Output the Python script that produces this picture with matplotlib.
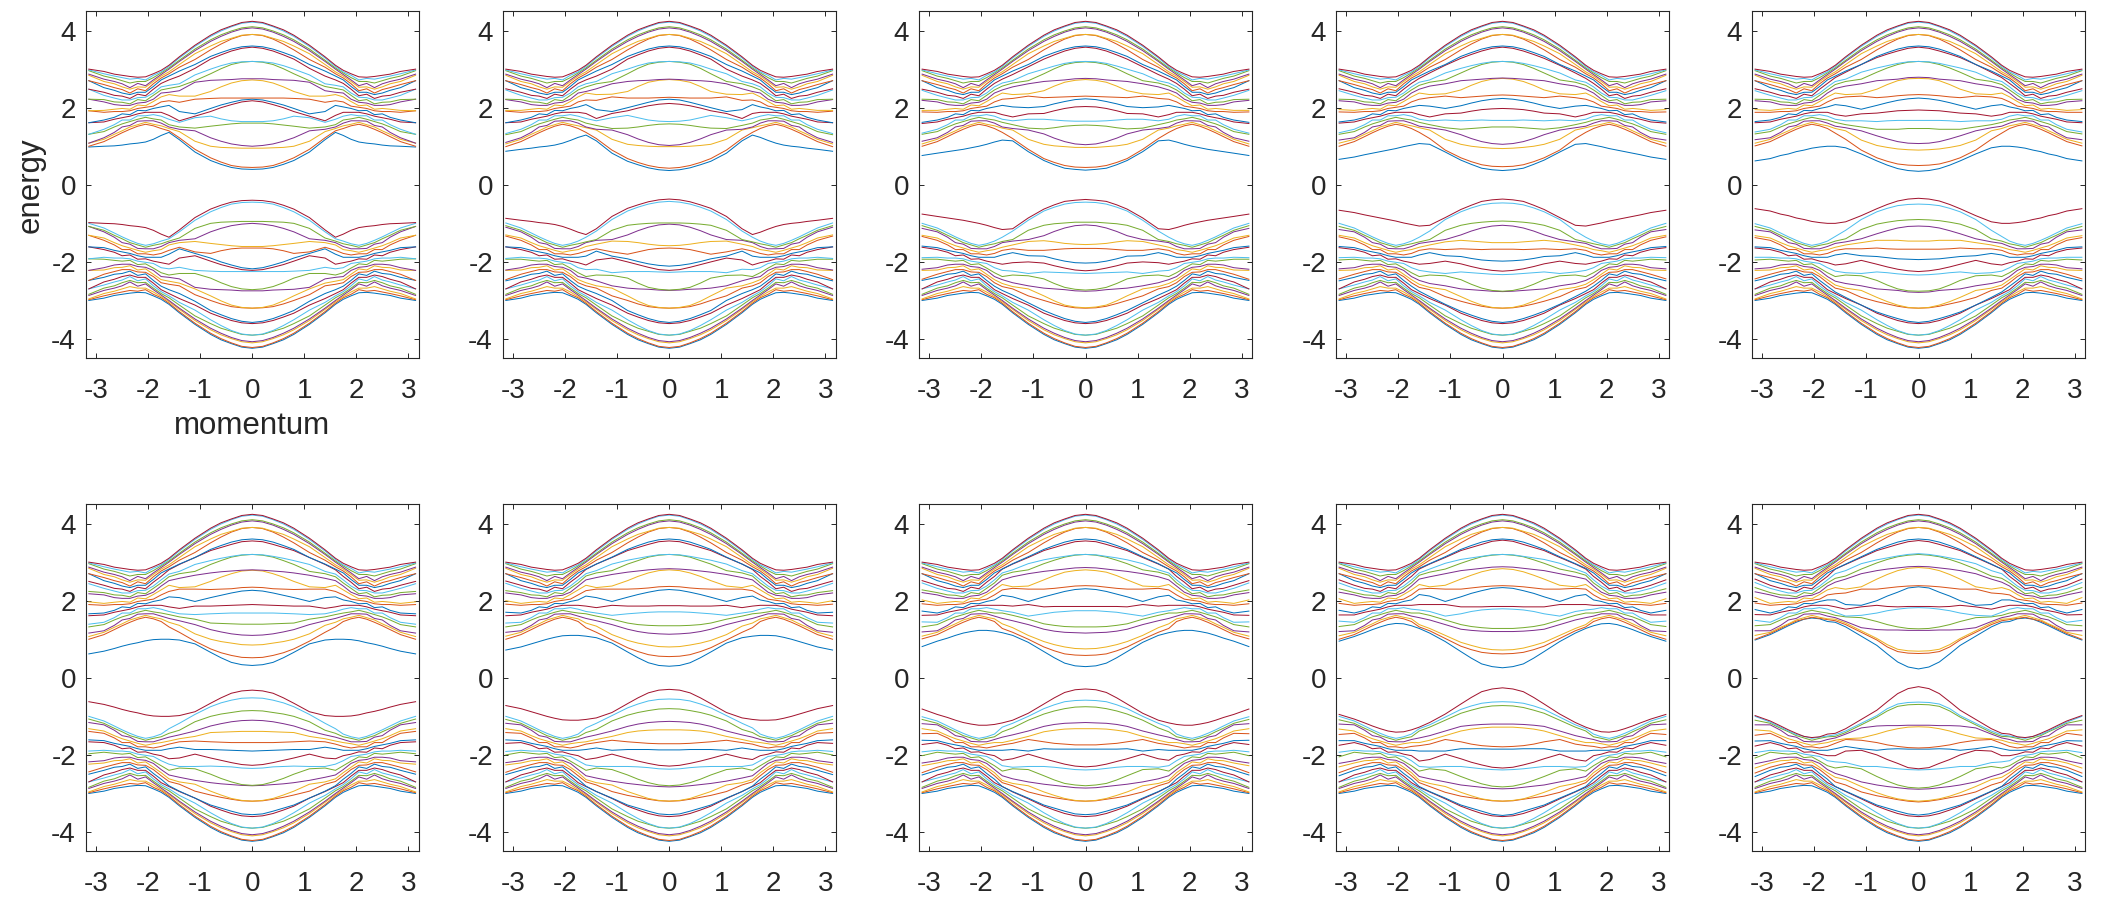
import numpy as np
import matplotlib
matplotlib.use("Agg")
import matplotlib.pyplot as plt

plt.rcParams['font.family'] = ['Liberation Sans', 'DejaVu Sans']
plt.rcParams['axes.unicode_minus'] = False

W, H = 2108, 897
k_inner = [0, .2, .4, .6, .8, 1.1, 1.4, 1.6]
k_weave = [1.75, 1.9, 2.05, 2.2, 2.35, 2.5, 2.65, 2.85]
k_edge = [3.14]
x_ticks = [-3, -2, -1, 0, 1, 2, 3]
y_ticks = [-4, -2, 0, 2, 4]
colors = ['#0072BD', '#D95319', '#EDB120', '#7E2F8E', '#77AC30', '#4DBEEE', '#A2142F']

# bands 14-20 at k_inner + k_edge, shared by every panel
top_bands = [
    [3.60, 3.58, 3.52, 3.43, 3.33, 3.12, 2.95, 2.82, 2.70],
    [3.90, 3.87, 3.78, 3.65, 3.50, 3.25, 3.05, 2.88, 2.70],
    [3.90, 3.88, 3.80, 3.72, 3.60, 3.40, 3.12, 2.93, 2.84],
    [4.07, 4.04, 3.96, 3.85, 3.72, 3.48, 3.20, 3.00, 2.87],
    [4.10, 4.07, 3.99, 3.89, 3.76, 3.52, 3.23, 3.03, 2.96],
    [4.22, 4.19, 4.10, 3.99, 3.85, 3.59, 3.29, 3.07, 2.98],
    [4.24, 4.21, 4.12, 4.02, 3.88, 3.62, 3.32, 3.10, 3.00],
]

# bands 1-20 in the weaving zone, one list per k_weave value
weave_columns = [
    [1.46, 1.53, 1.60, 1.68, 1.78, 1.88, 2.02, 2.15, 2.28, 2.38, 2.46, 2.54, 2.63, 2.72, 2.77, 2.82, 2.86, 2.90, 2.93, 2.97],
    [1.53, 1.57, 1.66, 1.71, 1.82, 1.88, 1.98, 2.04, 2.16, 2.22, 2.32, 2.38, 2.48, 2.55, 2.62, 2.68, 2.72, 2.78, 2.84, 2.88],
    [1.57, 1.62, 1.66, 1.75, 1.79, 1.88, 1.92, 2.01, 2.05, 2.14, 2.18, 2.27, 2.31, 2.40, 2.44, 2.53, 2.57, 2.68, 2.72, 2.80],
    [1.52, 1.56, 1.65, 1.70, 1.79, 1.84, 1.93, 1.98, 2.07, 2.12, 2.21, 2.26, 2.35, 2.40, 2.49, 2.54, 2.63, 2.68, 2.76, 2.79],
    [1.44, 1.50, 1.54, 1.64, 1.68, 1.78, 1.82, 1.92, 1.96, 2.06, 2.10, 2.20, 2.24, 2.34, 2.38, 2.48, 2.52, 2.64, 2.74, 2.81],
    [1.35, 1.40, 1.50, 1.58, 1.68, 1.74, 1.84, 1.90, 1.98, 2.06, 2.14, 2.20, 2.30, 2.38, 2.47, 2.54, 2.62, 2.70, 2.78, 2.84],
    [1.25, 1.31, 1.36, 1.50, 1.56, 1.70, 1.75, 1.90, 1.96, 2.08, 2.15, 2.25, 2.32, 2.45, 2.52, 2.62, 2.68, 2.76, 2.82, 2.87],
    [1.12, 1.18, 1.22, 1.38, 1.44, 1.63, 1.68, 1.88, 1.93, 2.15, 2.21, 2.32, 2.40, 2.52, 2.60, 2.68, 2.74, 2.82, 2.88, 2.94],
]

# lowest band of each panel at k_inner + k_weave + k_edge
lowest_bands = [
    [.40, .41, .45, .53, .63, .85, 1.17, 1.36, 1.28, 1.18, 1.11, 1.08, 1.06, 1.03, 1.01, 1.0, .98],
    [.37, .39, .44, .52, .61, .82, 1.14, 1.29, 1.23, 1.15, 1.08, 1.03, 1.0, .98, .95, .92, .87],
    [.38, .40, .43, .52, .63, .86, 1.14, 1.16, 1.11, 1.05, 1.0, .96, .92, .89, .86, .82, .76],
    [.37, .39, .43, .53, .64, .85, 1.05, 1.07, 1.03, .99, .94, .90, .86, .82, .78, .72, .66],
    [.35, .37, .42, .51, .62, .80, .96, 1.0, 1.0, .98, .95, .90, .86, .80, .76, .68, .62],
    [.32, .34, .40, .52, .66, .88, .98, 1.0, 1.0, .99, .96, .91, .87, .82, .76, .69, .62],
    [.30, .32, .39, .52, .67, .90, 1.04, 1.08, 1.10, 1.10, 1.09, 1.05, 1.0, .94, .88, .80, .72],
    [.29, .31, .38, .52, .68, .92, 1.10, 1.17, 1.21, 1.23, 1.23, 1.20, 1.16, 1.10, 1.03, .95, .81],
    [.26, .29, .36, .51, .68, .94, 1.16, 1.28, 1.35, 1.40, 1.41, 1.38, 1.32, 1.25, 1.17, 1.07, .95],
    [.23, .28, .41, .62, .84, 1.08, 1.32, 1.44, 1.51, 1.54, 1.55, 1.52, 1.47, 1.38, 1.28, 1.15, .98],
]

# bands 1-13 of each panel at k_inner + k_edge
panel_1 = [
    [.45, .46, .50, .59, .70, .92, 1.22, 1.40, 1.0],
    [.95, .95, .96, .97, 1.0, 1.13, 1.38, 1.46, 1.08],
    [1.0, 1.02, 1.06, 1.13, 1.22, 1.40, 1.44, 1.50, 1.08],
    [1.60, 1.60, 1.58, 1.55, 1.52, 1.47, 1.50, 1.56, 1.31],
    [1.64, 1.64, 1.66, 1.71, 1.78, 1.74, 1.62, 1.70, 1.31],
    [2.18, 2.15, 2.08, 2.0, 1.90, 1.78, 1.66, 1.80, 1.61],
    [2.22, 2.20, 2.14, 2.07, 1.98, 1.84, 1.90, 2.06, 1.61],
    [2.25, 2.25, 2.25, 2.25, 2.24, 2.22, 2.14, 2.18, 1.92],
    [2.72, 2.70, 2.64, 2.54, 2.42, 2.30, 2.30, 2.34, 1.92],
    [2.75, 2.75, 2.73, 2.72, 2.71, 2.66, 2.44, 2.40, 2.22],
    [3.20, 3.18, 3.12, 3.01, 2.88, 2.70, 2.55, 2.50, 2.22],
    [3.20, 3.19, 3.16, 3.09, 3.0, 2.85, 2.62, 2.58, 2.48],
    [3.57, 3.54, 3.47, 3.37, 3.26, 3.02, 2.82, 2.72, 2.48],
]
panel_2 = [
    [.43, .45, .50, .58, .68, .90, 1.20, 1.36, .99],
    [.99, .99, 1.0, 1.02, 1.05, 1.18, 1.42, 1.48, 1.06],
    [1.02, 1.04, 1.10, 1.19, 1.30, 1.42, 1.44, 1.50, 1.10],
    [1.58, 1.57, 1.54, 1.50, 1.47, 1.46, 1.54, 1.60, 1.30],
    [1.64, 1.65, 1.68, 1.74, 1.80, 1.74, 1.66, 1.72, 1.33],
    [2.11, 2.09, 2.05, 1.99, 1.92, 1.85, 1.72, 1.85, 1.61],
    [2.22, 2.20, 2.14, 2.07, 2.0, 1.90, 1.95, 2.08, 1.61],
    [2.27, 2.26, 2.25, 2.25, 2.25, 2.28, 2.19, 2.20, 1.91],
    [2.73, 2.71, 2.66, 2.55, 2.42, 2.35, 2.34, 2.38, 1.93],
    [2.74, 2.73, 2.71, 2.70, 2.68, 2.62, 2.49, 2.42, 2.21],
    [3.20, 3.18, 3.13, 3.02, 2.88, 2.68, 2.62, 2.54, 2.22],
    [3.20, 3.19, 3.16, 3.09, 3.0, 2.88, 2.68, 2.62, 2.46],
    [3.57, 3.54, 3.47, 3.37, 3.26, 3.0, 2.82, 2.72, 2.49],
]
panel_3 = [
    [.45, .46, .50, .58, .68, .92, 1.20, 1.36, 1.0],
    [.97, .97, .99, 1.01, 1.05, 1.18, 1.42, 1.47, 1.06],
    [1.04, 1.06, 1.12, 1.21, 1.32, 1.42, 1.46, 1.50, 1.13],
    [1.55, 1.54, 1.52, 1.48, 1.45, 1.47, 1.56, 1.62, 1.31],
    [1.65, 1.65, 1.66, 1.68, 1.70, 1.70, 1.66, 1.70, 1.34],
    [2.03, 2.02, 1.98, 1.92, 1.85, 1.84, 1.76, 1.82, 1.59],
    [2.23, 2.21, 2.16, 2.10, 2.03, 2.0, 2.02, 2.06, 1.62],
    [2.30, 2.29, 2.28, 2.27, 2.26, 2.30, 2.24, 2.22, 1.89],
    [2.73, 2.71, 2.66, 2.56, 2.44, 2.36, 2.34, 2.38, 1.93],
    [2.76, 2.75, 2.72, 2.70, 2.68, 2.62, 2.54, 2.46, 2.19],
    [3.19, 3.17, 3.12, 3.01, 2.88, 2.70, 2.64, 2.56, 2.22],
    [3.20, 3.19, 3.15, 3.08, 3.0, 2.88, 2.70, 2.64, 2.45],
    [3.57, 3.54, 3.47, 3.37, 3.26, 3.06, 2.86, 2.74, 2.48],
]
panel_4 = [
    [.47, .48, .52, .60, .70, .90, 1.20, 1.36, 1.0],
    [.94, .95, .97, 1.0, 1.05, 1.18, 1.42, 1.48, 1.08],
    [1.05, 1.07, 1.12, 1.20, 1.30, 1.42, 1.48, 1.52, 1.16],
    [1.50, 1.50, 1.48, 1.46, 1.44, 1.48, 1.56, 1.62, 1.31],
    [1.67, 1.67, 1.68, 1.67, 1.66, 1.68, 1.66, 1.70, 1.35],
    [1.98, 1.97, 1.95, 1.91, 1.86, 1.84, 1.76, 1.82, 1.60],
    [2.24, 2.22, 2.18, 2.12, 2.05, 1.98, 2.04, 2.06, 1.63],
    [2.33, 2.32, 2.30, 2.28, 2.26, 2.30, 2.26, 2.22, 1.89],
    [2.76, 2.74, 2.68, 2.58, 2.46, 2.36, 2.34, 2.38, 1.95],
    [2.77, 2.76, 2.74, 2.72, 2.70, 2.62, 2.56, 2.48, 2.18],
    [3.20, 3.18, 3.12, 3.02, 2.90, 2.72, 2.66, 2.58, 2.22],
    [3.20, 3.19, 3.15, 3.09, 3.02, 2.90, 2.72, 2.66, 2.44],
    [3.57, 3.54, 3.47, 3.38, 3.28, 3.10, 2.90, 2.76, 2.49],
]
panel_5 = [
    [.50, .51, .54, .61, .70, .90, 1.18, 1.34, 1.01],
    [.90, .91, .93, .97, 1.02, 1.16, 1.40, 1.46, 1.08],
    [1.07, 1.08, 1.12, 1.19, 1.27, 1.40, 1.48, 1.52, 1.17],
    [1.46, 1.46, 1.44, 1.44, 1.44, 1.50, 1.56, 1.62, 1.32],
    [1.67, 1.67, 1.67, 1.66, 1.64, 1.66, 1.66, 1.70, 1.37],
    [1.94, 1.93, 1.92, 1.89, 1.86, 1.84, 1.78, 1.82, 1.61],
    [2.25, 2.23, 2.19, 2.13, 2.06, 1.96, 2.05, 2.08, 1.64],
    [2.34, 2.33, 2.31, 2.28, 2.26, 2.30, 2.28, 2.24, 1.88],
    [2.76, 2.75, 2.70, 2.60, 2.48, 2.36, 2.34, 2.38, 1.95],
    [2.79, 2.78, 2.74, 2.72, 2.70, 2.62, 2.56, 2.50, 2.18],
    [3.20, 3.18, 3.12, 3.03, 2.92, 2.74, 2.68, 2.60, 2.22],
    [3.20, 3.19, 3.15, 3.09, 3.03, 2.92, 2.74, 2.68, 2.44],
    [3.57, 3.54, 3.47, 3.39, 3.30, 3.12, 2.92, 2.78, 2.49],
]
panel_6 = [
    [.52, .53, .58, .65, .75, .95, 1.18, 1.32, 1.0],
    [.85, .86, .90, .94, 1.0, 1.14, 1.36, 1.44, 1.07],
    [1.10, 1.11, 1.14, 1.19, 1.25, 1.38, 1.48, 1.54, 1.16],
    [1.39, 1.39, 1.40, 1.41, 1.42, 1.52, 1.58, 1.64, 1.32],
    [1.68, 1.68, 1.68, 1.67, 1.66, 1.64, 1.66, 1.72, 1.39],
    [1.90, 1.89, 1.88, 1.87, 1.86, 1.86, 1.80, 1.84, 1.61],
    [2.27, 2.25, 2.20, 2.14, 2.08, 1.98, 2.08, 2.10, 1.66],
    [2.35, 2.34, 2.31, 2.30, 2.29, 2.30, 2.30, 2.24, 1.90],
    [2.79, 2.77, 2.70, 2.61, 2.50, 2.36, 2.34, 2.40, 1.97],
    [2.80, 2.79, 2.77, 2.75, 2.72, 2.66, 2.58, 2.52, 2.18],
    [3.20, 3.18, 3.13, 3.04, 2.94, 2.76, 2.70, 2.62, 2.24],
    [3.20, 3.19, 3.15, 3.10, 3.04, 2.94, 2.76, 2.69, 2.44],
    [3.55, 3.53, 3.46, 3.38, 3.30, 3.12, 2.94, 2.80, 2.50],
]
panel_7 = [
    [.55, .56, .60, .68, .78, .98, 1.18, 1.30, 1.0],
    [.80, .81, .85, .90, .97, 1.12, 1.34, 1.42, 1.08],
    [1.13, 1.14, 1.16, 1.20, 1.26, 1.38, 1.48, 1.54, 1.18],
    [1.35, 1.35, 1.36, 1.38, 1.42, 1.52, 1.60, 1.66, 1.32],
    [1.71, 1.71, 1.70, 1.68, 1.66, 1.62, 1.68, 1.72, 1.42],
    [1.87, 1.87, 1.86, 1.86, 1.86, 1.88, 1.82, 1.86, 1.61],
    [2.29, 2.27, 2.22, 2.16, 2.09, 1.98, 2.08, 2.12, 1.70],
    [2.37, 2.36, 2.33, 2.31, 2.30, 2.30, 2.30, 2.26, 1.91],
    [2.80, 2.78, 2.72, 2.63, 2.52, 2.38, 2.34, 2.40, 2.0],
    [2.83, 2.82, 2.80, 2.77, 2.74, 2.68, 2.60, 2.54, 2.20],
    [3.20, 3.18, 3.13, 3.04, 2.95, 2.78, 2.72, 2.64, 2.26],
    [3.20, 3.19, 3.15, 3.10, 3.05, 2.95, 2.78, 2.70, 2.45],
    [3.55, 3.53, 3.46, 3.38, 3.30, 3.13, 2.95, 2.81, 2.51],
]
panel_8 = [
    [.58, .59, .62, .70, .80, 1.0, 1.18, 1.28, 1.01],
    [.75, .76, .80, .86, .94, 1.10, 1.30, 1.40, 1.08],
    [1.16, 1.17, 1.18, 1.21, 1.26, 1.38, 1.48, 1.54, 1.19],
    [1.32, 1.32, 1.33, 1.36, 1.40, 1.52, 1.62, 1.68, 1.32],
    [1.74, 1.74, 1.72, 1.70, 1.66, 1.60, 1.70, 1.74, 1.45],
    [1.85, 1.85, 1.85, 1.85, 1.84, 1.90, 1.86, 1.88, 1.62],
    [2.31, 2.29, 2.24, 2.17, 2.10, 1.98, 2.10, 2.14, 1.73],
    [2.39, 2.38, 2.35, 2.32, 2.30, 2.30, 2.32, 2.28, 1.92],
    [2.80, 2.78, 2.74, 2.65, 2.54, 2.38, 2.36, 2.42, 2.02],
    [2.86, 2.85, 2.82, 2.79, 2.76, 2.70, 2.62, 2.54, 2.21],
    [3.20, 3.18, 3.13, 3.05, 2.96, 2.80, 2.74, 2.66, 2.28],
    [3.20, 3.19, 3.15, 3.11, 3.06, 2.96, 2.80, 2.72, 2.46],
    [3.55, 3.53, 3.46, 3.38, 3.30, 3.14, 2.96, 2.82, 2.52],
]
panel_9 = [
    [.62, .63, .66, .73, .82, 1.02, 1.22, 1.32, 1.0],
    [.72, .73, .77, .84, .92, 1.10, 1.28, 1.38, 1.09],
    [1.20, 1.20, 1.21, 1.23, 1.26, 1.38, 1.50, 1.56, 1.20],
    [1.28, 1.28, 1.30, 1.33, 1.38, 1.50, 1.62, 1.68, 1.33],
    [1.79, 1.78, 1.76, 1.72, 1.66, 1.60, 1.72, 1.76, 1.47],
    [1.85, 1.85, 1.84, 1.84, 1.84, 1.90, 1.90, 1.90, 1.63],
    [2.34, 2.32, 2.26, 2.19, 2.10, 1.98, 2.12, 2.16, 1.75],
    [2.39, 2.38, 2.36, 2.33, 2.30, 2.30, 2.32, 2.30, 1.93],
    [2.83, 2.81, 2.75, 2.66, 2.56, 2.40, 2.36, 2.42, 2.05],
    [2.88, 2.87, 2.84, 2.81, 2.78, 2.70, 2.62, 2.56, 2.22],
    [3.20, 3.18, 3.14, 3.06, 2.97, 2.82, 2.74, 2.66, 2.31],
    [3.20, 3.19, 3.15, 3.11, 3.07, 2.97, 2.82, 2.72, 2.46],
    [3.57, 3.54, 3.46, 3.38, 3.30, 3.14, 2.96, 2.84, 2.54],
]
panel_10 = [
    [.63, .64, .68, .80, .98, 1.18, 1.38, 1.48, 1.0],
    [.69, .70, .74, .86, 1.02, 1.22, 1.42, 1.52, 1.10],
    [1.23, 1.23, 1.24, 1.24, 1.25, 1.30, 1.46, 1.56, 1.22],
    [1.27, 1.28, 1.32, 1.38, 1.46, 1.56, 1.58, 1.62, 1.35],
    [1.82, 1.81, 1.78, 1.74, 1.68, 1.62, 1.60, 1.70, 1.49],
    [1.85, 1.85, 1.84, 1.85, 1.88, 1.84, 1.78, 1.84, 1.64],
    [2.36, 2.33, 2.22, 2.12, 2.0, 1.88, 1.90, 2.02, 1.77],
    [2.39, 2.38, 2.36, 2.33, 2.30, 2.30, 2.20, 2.18, 1.94],
    [2.86, 2.84, 2.78, 2.68, 2.56, 2.36, 2.30, 2.34, 2.08],
    [2.89, 2.88, 2.85, 2.82, 2.78, 2.70, 2.56, 2.48, 2.23],
    [3.20, 3.18, 3.14, 3.07, 2.98, 2.82, 2.64, 2.58, 2.34],
    [3.22, 3.20, 3.16, 3.11, 3.06, 2.96, 2.78, 2.70, 2.47],
    [3.56, 3.53, 3.46, 3.38, 3.30, 3.14, 2.94, 2.82, 2.56],
]
panels = [panel_1, panel_2, panel_3, panel_4, panel_5,
          panel_6, panel_7, panel_8, panel_9, panel_10]

k_half = np.array(k_inner + k_weave + k_edge)
k_full = np.concatenate([-k_half[::-1], k_half[1:]])
n_in = len(k_inner)
weave = np.array(weave_columns).T   # rows: bands 1-20

fig = plt.figure(figsize=(W / 100, H / 100), dpi=100)
lefts = [85.7, 502.7, 919.0, 1336.0, 1752.0]
tops = [11.3, 504.3]
ax_w, ax_h = 333.0, 347.0
ink = '#262626'

for n, low in enumerate(panels):
    row, col = divmod(n, 5)
    ax = fig.add_axes([lefts[col] / W, 1 - (tops[row] + ax_h) / H, ax_w / W, ax_h / H])
    rows = np.array(low + top_bands)
    upper = np.hstack([rows[:, :n_in], weave, rows[:, n_in:]])
    upper = np.vstack([lowest_bands[n], upper])
    upper = np.sort(upper, axis=0)
    full_up = np.hstack([upper[:, ::-1], upper[:, 1:]])
    bands = np.vstack([-full_up[::-1], full_up])
    for i, band in enumerate(bands):
        ax.plot(k_full, band, color=colors[i % 7], lw=0.72)
    ax.set_xlim(-3.2, 3.2)
    ax.set_ylim(-4.5, 4.5)
    ax.set_xticks(x_ticks)
    ax.set_yticks(y_ticks)
    ax.tick_params(direction='in', top=True, right=True, length=3.5, width=0.7,
                   color=ink, labelcolor=ink, labelsize=20)
    ax.tick_params(axis='x', pad=14)
    ax.tick_params(axis='y', pad=7)
    for s in ax.spines.values():
        s.set_linewidth(0.8)
        s.set_color(ink)
    if n == 0:
        ax.set_xlabel('momentum', fontsize=22.5, color=ink, labelpad=5)
        ax.set_ylabel('energy', fontsize=22.5, color=ink, labelpad=4)

fig.savefig('out.png', dpi=100)
